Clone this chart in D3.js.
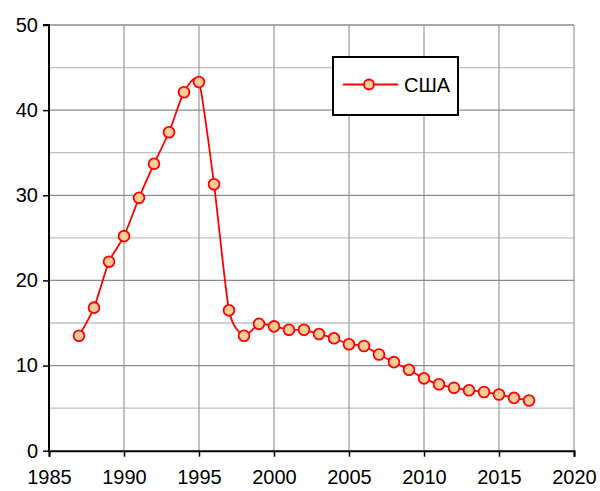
<!DOCTYPE html>
<html>
<head>
<meta charset="utf-8">
<script src="https://cdn.jsdelivr.net/npm/d3@7"></script>
<style>
  body { margin: 0; background: #fff; }
  svg text { font-family: Arial, "Liberation Sans", sans-serif; fill: #000; }
</style>
</head>
<body>
<svg class="chart"></svg>
<script>
var years = [1987,1988,1989,1990,1991,1992,1993,1994,1995,1996,1997,1998,1999,2000,2001,2002,
             2003,2004,2005,2006,2007,2008,2009,2010,2011,2012,2013,2014,2015,2016,2017];
var usaValues = [13.5,16.8,22.2,25.2,29.7,33.7,37.4,42.1,43.3,31.3,16.5,13.5,14.9,14.6,14.2,14.2,
                 13.7,13.2,12.5,12.3,11.3,10.4,9.5,8.5,7.8,7.4,7.1,6.9,6.6,6.2,5.9];
var xTicks = [1985,1990,1995,2000,2005,2010,2015,2020];
var yTicks = [0,10,20,30,40,50];
var yMinor = [5,15,25,35,45];
var seriesName = 'США';

var W = 600, H = 491;
var plotLeft = 49, plotRight = 574, plotTop = 25, plotBottom = 450.7;

var svg = d3.select('.chart')
            .attr('width', W)
            .attr('height', H);

var xScale = d3.scaleLinear().domain([1985,2020]).range([plotLeft,plotRight]);
var yScale = d3.scaleLinear().domain([0,50]).range([plotBottom,plotTop]);

// minor horizontal grid
svg.selectAll('.minor').data(yMinor).enter()
   .append('line')
   .attr('x1', plotLeft).attr('x2', plotRight)
   .attr('y1', d => yScale(d)).attr('y2', d => yScale(d))
   .attr('stroke', '#c0c0c0').attr('stroke-width', 1.3);

// vertical grid
svg.selectAll('.vgrid').data(xTicks.slice(1)).enter()
   .append('line')
   .attr('x1', d => xScale(d)).attr('x2', d => xScale(d))
   .attr('y1', plotTop).attr('y2', plotBottom)
   .attr('stroke', '#a0a0a0').attr('stroke-width', 1.3);

// major horizontal grid
svg.selectAll('.major').data(yTicks.slice(1)).enter()
   .append('line')
   .attr('x1', plotLeft).attr('x2', plotRight)
   .attr('y1', d => yScale(d)).attr('y2', d => yScale(d))
   .attr('stroke', '#8c8c8c').attr('stroke-width', 1.3);

var yAxis = d3.axisLeft(yScale).tickValues(yTicks).tickSize(6).tickPadding(5);
var xAxis = d3.axisBottom(xScale).tickValues(xTicks).tickSize(6).tickPadding(13).tickFormat(d3.format('d'));

var gy = svg.append('g')
   .attr('transform', 'translate(' + plotLeft + ',0)')
   .call(yAxis);
var gx = svg.append('g')
   .attr('transform', 'translate(0,' + plotBottom + ')')
   .call(xAxis);

[gx, gy].forEach(g => {
  g.attr('font-size', 20).attr('font-family', 'Arial, "Liberation Sans", sans-serif');
  g.select('.domain').attr('stroke', '#000').attr('stroke-width', 2);
  g.selectAll('.tick line').attr('stroke', '#000').attr('stroke-width', 1.5);
  g.selectAll('.tick text').attr('fill', '#000');
});
gy.select('.domain').attr('d', 'M-6,' + plotTop + 'H0V' + plotBottom);

var line = d3.line()
             .x((d,i) => xScale(years[i]))
             .y(d => yScale(d))
             .curve(d3.curveCardinal.tension(0.3));

svg.append('path')
   .attr('d', line(usaValues))
   .attr('fill', 'none')
   .attr('stroke', '#ff0000')
   .attr('stroke-width', 1.8);

svg.selectAll('.pt').data(usaValues).enter()
   .append('circle')
   .attr('cx', (d,i) => xScale(years[i]))
   .attr('cy', d => yScale(d))
   .attr('r', 5.4)
   .attr('fill', '#ffcc99')
   .attr('stroke', '#ff0000')
   .attr('stroke-width', 1.8);

// legend
var lg = svg.append('g').attr('transform', 'translate(333,57)');
lg.append('rect')
  .attr('width', 125).attr('height', 58)
  .attr('fill', '#fff').attr('stroke', '#000').attr('stroke-width', 2);
lg.append('line')
  .attr('x1', 10).attr('x2', 65).attr('y1', 27.5).attr('y2', 27.5)
  .attr('stroke', '#ff0000').attr('stroke-width', 1.8);
lg.append('circle')
  .attr('cx', 36).attr('cy', 27.5).attr('r', 5)
  .attr('fill', '#ffcc99').attr('stroke', '#ff0000').attr('stroke-width', 1.8);
lg.append('text')
  .attr('x', 71).attr('y', 35)
  .style('font-size', '20px')
  .text(seriesName);
</script>
</body>
</html>
